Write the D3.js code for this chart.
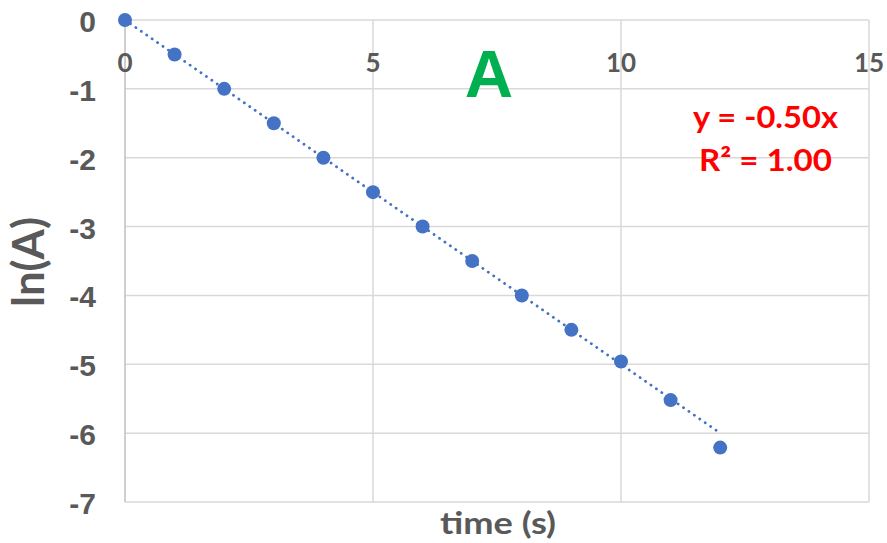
<!DOCTYPE html>
<html>
<head>
<meta charset="utf-8">
<script src="https://cdn.jsdelivr.net/npm/d3@7"></script>
<style>
  body { margin: 0; background: #fff; }
  svg { display: block; }
</style>
</head>
<body>
<div id="chart"></div>
<script>
// data
const times = [0, 1, 2, 3, 4, 5, 6, 7, 8, 9, 10, 11, 12]
const lnA = [0, -0.5, -1, -1.5, -2, -2.5, -3, -3.5, -4, -4.5, -4.96, -5.52, -6.21]
const xTicks = [0, 5, 10, 15]
const yTicks = [0, -1, -2, -3, -4, -5, -6, -7]
const slope = -0.5
const trendRange = [0, 12]

const width = 887, height = 543
const margin = {top: 20, right: 18, bottom: 41, left: 125}

const svg = d3.select('#chart').append('svg')
  .attr('width', width)
  .attr('height', height)

const x = d3.scaleLinear().domain([0, 15]).range([margin.left, width - margin.right])
const y = d3.scaleLinear().domain([0, -7]).range([margin.top, height - margin.bottom])

const grey = '#595959'
const sans = 'Lato, "Open Sans", sans-serif'

// grid
svg.append('g')
  .selectAll('line.h')
  .data(yTicks)
  .enter().append('line')
  .attr('x1', x(0)).attr('x2', x(15))
  .attr('y1', d => y(d)).attr('y2', d => y(d))
  .attr('stroke', '#d9d9d9').attr('stroke-width', 1.5)
svg.append('g')
  .selectAll('line.v')
  .data(xTicks.slice(1))
  .enter().append('line')
  .attr('x1', d => x(d)).attr('x2', d => x(d))
  .attr('y1', y(0)).attr('y2', y(-7))
  .attr('stroke', '#d9d9d9').attr('stroke-width', 1.5)

// y axis line (at x = 0)
svg.append('line')
  .attr('x1', x(0)).attr('x2', x(0))
  .attr('y1', y(0)).attr('y2', y(-7))
  .attr('stroke', '#bfbfbf').attr('stroke-width', 1.5)

// y tick labels
svg.append('g')
  .selectAll('text')
  .data(yTicks)
  .enter().append('text')
  .attr('x', 96)
  .attr('y', d => y(d) + 12)
  .attr('text-anchor', 'end')
  .style('font-family', '"Liberation Sans", Arial, sans-serif')
  .style('font-weight', 'bold')
  .style('font-size', '30px')
  .style('fill', grey)
  .text(d => d)

// x tick labels sit under the top axis line
svg.append('g')
  .selectAll('text')
  .data(xTicks)
  .enter().append('text')
  .attr('x', d => x(d))
  .attr('y', 72)
  .attr('text-anchor', 'middle')
  .style('font-family', sans)
  .style('font-weight', 'bold')
  .style('font-size', '26px')
  .style('fill', grey)
  .text(d => d)

// axis titles
svg.append('text')
  .attr('x', 440)
  .attr('y', 534)
  .attr('textLength', 116)
  .attr('lengthAdjust', 'spacingAndGlyphs')
  .style('font-family', sans)
  .style('font-weight', 'bold')
  .style('font-size', '30px')
  .style('fill', grey)
  .text('time (s)')
svg.append('text')
  .attr('transform', 'translate(44, 307) rotate(-90)')
  .attr('textLength', 90)
  .attr('lengthAdjust', 'spacingAndGlyphs')
  .style('font-family', sans)
  .style('font-weight', 'bold')
  .style('font-size', '43px')
  .style('fill', grey)
  .text('ln(A)')

// trendline
svg.append('line')
  .attr('x1', x(trendRange[0])).attr('y1', y(slope * trendRange[0]))
  .attr('x2', x(trendRange[1])).attr('y2', y(slope * trendRange[1]))
  .attr('stroke', '#4472c4')
  .attr('stroke-width', 2.8)
  .attr('stroke-linecap', 'round')
  .attr('stroke-dasharray', '0.1 6.5')

// points
svg.append('g')
  .selectAll('circle')
  .data(times.map((t, i) => ({t: t, v: lnA[i]})))
  .enter().append('circle')
  .attr('cx', d => x(d.t))
  .attr('cy', d => y(d.v))
  .attr('r', 7)
  .style('fill', '#4472c4')

// equation
const eqStyle = sel => sel
  .attr('lengthAdjust', 'spacingAndGlyphs')
  .style('font-family', sans)
  .style('font-weight', 'bold')
  .style('font-size', '30px')
  .style('fill', '#ff0000')
svg.append('text').call(eqStyle)
  .attr('x', 693).attr('y', 128).attr('textLength', 145)
  .text('y = -0.50x')
svg.append('text').call(eqStyle)
  .attr('x', 699).attr('y', 171).attr('textLength', 133)
  .text('R² = 1.00')

// panel letter
svg.append('text')
  .attr('x', 489)
  .attr('y', 97)
  .attr('text-anchor', 'middle')
  .style('font-family', '"Liberation Sans", Arial, sans-serif')
  .style('font-weight', 'bold')
  .style('font-size', '67px')
  .style('fill', '#00b050')
  .text('A')
</script>
</body>
</html>
